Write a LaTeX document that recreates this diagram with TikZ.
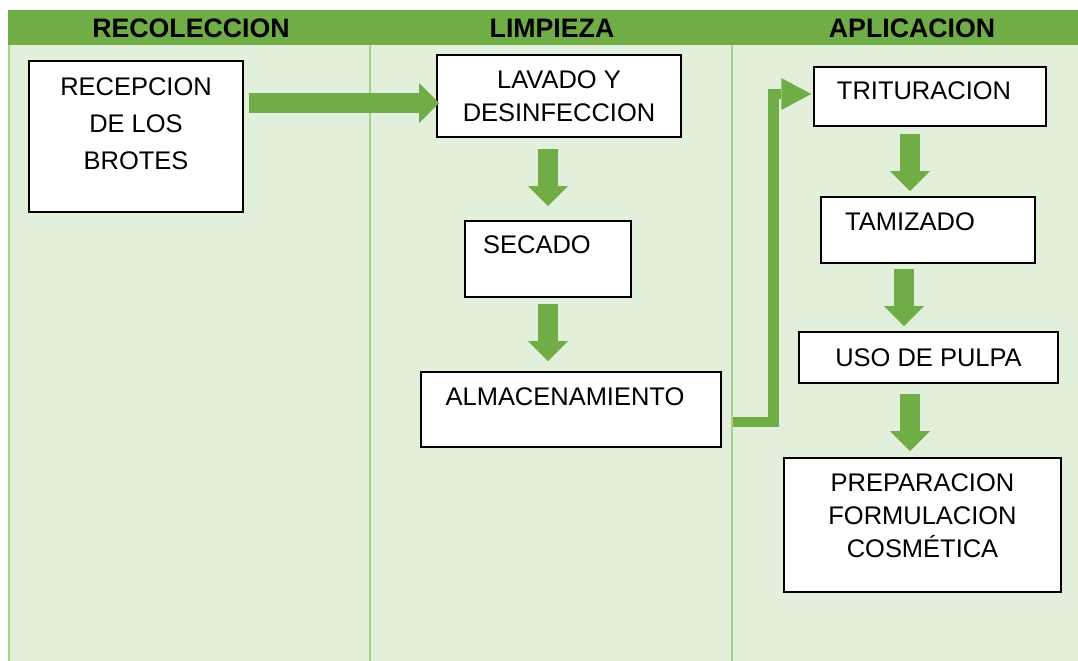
\documentclass[tikz,border=0pt]{standalone}
\usepackage{fontspec}
\setmainfont{Liberation Sans}
\usetikzlibrary{arrows.meta}
\definecolor{hdrgreen}{HTML}{70AD47}
\definecolor{lanegreen}{HTML}{E2EFDA}
\definecolor{linegreen}{HTML}{A9D18E}

\begin{document}
\begin{tikzpicture}[x=0.02cm, y=-0.02cm,
	 stagebox/.style={draw, line width=0.9pt, fill=white, align=center, inner sep=0pt,
	 	font=\fontsize{14.5}{19}\selectfont},
	 headtxt/.style={font=\bfseries\fontsize{15.2}{17}\selectfont},
	 flow/.style={draw=hdrgreen, line width=0.4cm,
	 	-{Triangle[width=0.8cm, length=0.4cm, line width=0pt]}},
	 flowthin/.style={draw=hdrgreen, line width=0.21cm, line join=miter,
	 	-{Triangle[width=0.64cm, length=0.6cm, line width=0pt]}}]
	    \useasboundingbox (0,0) rectangle (1078,661);
	    \fill[hdrgreen] (8,10) rectangle (1078,45);
	    \fill[lanegreen] (8,45) rectangle (1078,661);
	    \draw[linegreen, line width=0.8pt] (9,45) -- (9,661) (370,45) -- (370,661) (732,45) -- (732,661);
	    \node[headtxt] (hrecol) at (191,28) {RECOLECCION};
	    \node[headtxt] (hlimp) at (552,28) {LIMPIEZA};
	    \node[headtxt] (haplic) at (912,28) {APLICACION};
	    \node[stagebox, minimum width=4.28cm, minimum height=3.02cm, text depth=0.5cm,
	    	font=\fontsize{14.5}{21}\selectfont] (recep) at (136,136.5) {RECEPCION\\DE LOS\\BROTES};
	    \node[stagebox, minimum width=4.88cm, minimum height=1.64cm] (lavado) at (559,96) {LAVADO Y\\DESINFECCION};
	    \node[stagebox, minimum width=3.32cm, minimum height=1.52cm, text depth=0.56cm] (secado) at (548,259) {SECADO\kern0.44cm};
	    \node[stagebox, minimum width=6cm, minimum height=1.5cm, text depth=0.5cm] (almac) at (571,409.5) {ALMACENAMIENTO\kern0.24cm};
	    \node[stagebox, minimum width=4.64cm, minimum height=1.18cm, text depth=0.22cm] (tritur) at (930,96.5) {TRITURACION\kern0.24cm};
	    \node[stagebox, minimum width=4.28cm, minimum height=1.32cm, text depth=0.32cm] (tamiz) at (928,230) {TAMIZADO\kern0.72cm};
	    \node[stagebox, minimum width=5.18cm, minimum height=1.02cm] (pulpa) at (928.5,357.5) {USO DE PULPA};
	    \node[stagebox, minimum width=5.54cm, minimum height=2.68cm, text depth=0.38cm] (prepar) at (922.5,525) {PREPARACION\\FORMULACION\\COSMÉTICA};
	    \draw[flow, shorten <=0.1cm, shorten >=-0.06cm] ([yshift=0.67cm]recep.east) -- ([yshift=0.67cm]recep.east -| lavado.west);
	    \draw[flow, shorten <=0.22cm, shorten >=0.28cm] (lavado.south -| secado.north) -- (secado.north);
	    \draw[flow, shorten <=0.12cm, shorten >=0.2cm] (secado.south) -- (secado.south |- almac.north);
	    \coordinate (bend) at (773.5,94);
	    \draw[flowthin, shorten <=0.22cm, shorten >=0.04cm] ([yshift=-0.25cm]almac.east) -| (bend) -- (bend -| tritur.west);
	    \draw[flow, shorten <=0.14cm, shorten >=0.1cm] ([xshift=-0.4cm]tritur.south) -- ([xshift=-0.4cm]tritur.south |- tamiz.north);
	    \draw[flow, shorten <=0.1cm, shorten >=0.1cm] ([xshift=-0.48cm]tamiz.south) -- ([xshift=-0.48cm]tamiz.south |- pulpa.north);
	    \draw[flow, shorten <=0.2cm, shorten >=0.12cm] ([xshift=-0.37cm]pulpa.south) -- ([xshift=-0.37cm]pulpa.south |- prepar.north);
	 \end{tikzpicture}
\end{document}
